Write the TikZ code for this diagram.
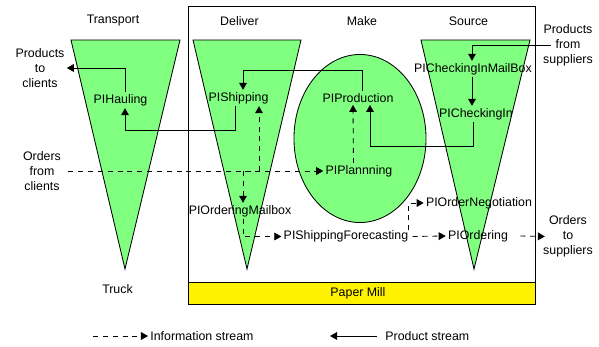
\documentclass[tikz,border=0pt]{standalone}
\usepackage{fontspec}
\setmainfont{Liberation Sans}
\usetikzlibrary{arrows.meta,calc}
\definecolor{funnelgreen}{RGB}{128,255,128}

\begin{document}
\begin{tikzpicture}[
    x=0.025cm, y=-0.025cm,
    font=\fontsize{8.8}{10.6}\selectfont,
    lbl/.style={inner sep=1.5pt, align=center},
    funnel/.style={draw, fill=funnelgreen, line width=0.6pt},
    prod/.style={-{Triangle[length=5pt,width=5.5pt]}, line width=0.6pt},
    info/.style={prod, dash pattern=on 3.6pt off 3.4pt}
  ]
    \useasboundingbox (0,0) rectangle (599,347);
    % funnels and the make ellipse
    \draw[funnel] (71,40) -- (180,40) -- (125,269) -- cycle;
    \draw[funnel] (193,40) -- (301,40) -- (247,269) -- cycle;
    \draw[funnel] (421,40) -- (530,40) -- (474,269) -- cycle;
    \draw[funnel] (360,138.5) ellipse [x radius=1.65cm, y radius=2.1cm];
    % paper mill frame
    \draw[line width=0.6pt] (188,6) rectangle (535,304);
    \draw[line width=0.6pt, fill=yellow] (188,282) rectangle (535,304);

    \node[lbl] (transport) at (113,21) {Transport};
    \node[lbl] (deliver) at (239.5,21) {Deliver};
    \node[lbl] (make) at (362,21) {Make};
    \node[lbl] (source) at (468.5,21) {Source};
    \node[lbl] (truck) at (117.5,289) {Truck};
    \node[lbl] (mill) at (358,293) {Paper Mill};

    \node[lbl] (hauling) at (120.5,100) {PIHauling};
    \node[lbl] (shipping) at (238.5,98) {PIShipping};
    \node[lbl] (production) at (358,98) {PIProduction};
    \node[lbl] (chkmail) at (473,69) {PICheckingInMailBox};
    \node[lbl] (chkin) at (476,114) {PICheckingIn};
    \node[lbl] (planning) at (359,171) {PIPlannning};
    \node[lbl] (ordmail) at (240,211) {PIOrderingMailbox};
    \node[lbl] (forecast) at (346,236.5) {PIShippingForecasting};
    \node[lbl] (negot) at (479,203) {PIOrderNegotiation};
    \node[lbl] (ordering) at (478,236) {PIOrdering};

    \node[lbl] (toclients) at (40,68) {Products\\to\\clients};
    \node[lbl] (fromclients) at (42,171) {Orders\\from\\clients};
    \node[lbl] (fromsupp) at (568,45) {Products\\from\\suppliers};
    \node[lbl] (tosupp) at (568,236.5) {Orders\\to\\suppliers};

    % product stream
    \draw[prod] ($(shipping.south)+(-3,0)$) -- ++(0,24) -| ($(hauling.south)+(4.5,0)$);
    \draw[prod] ($(hauling.north)+(4.5,0)$) |- (toclients.east);
    \draw[prod] ($(production.north)+(4,0)$) -- ++(0,-21) -| ($(shipping.north)+(4.5,0)$);
    \draw[prod] ($(chkin.south)+(-3,0)$) -- ++(0,24) -| ($(production.south)+(12,0)$);
    \draw[prod] ($(fromsupp.west)+(10,0)$) -| ($(chkmail.north)+(-1,0)$);
    \draw[prod] ($(chkmail.south)+(-1,0)$) -- ($(chkin.north)+(-4,0)$);

    % information stream
    \coordinate (upbranch) at ($(shipping.south)+(20.5,0)$);
    \coordinate (downbranch) at ($(ordmail.north)+(3,0)$);
    \draw[info] ($(fromclients.east)+(5,0)$) -- (planning.west);
    \draw[info] (downbranch |- planning.west) -- (downbranch);
    \draw[info] (upbranch |- planning.west) -- (upbranch);
    \draw[info] ($(planning.north)+(-5.5,0)$) -- ($(production.south)+(-5,0)$);
    \draw[info] ($(ordmail.south)+(3,0)$) |- (forecast.west);
    \draw[info] ($(forecast.north east)+(-2,2)$) |- (negot.west);
    \draw[info] ($(forecast.east)+(2,0)$) -- (ordering.west);
    \draw[info] ($(ordering.east)+(10,0)$) -- ($(tosupp.west)+(4,0)$);

    % legend
    \node[lbl, anchor=west] (infoleg) at (148,336) {Information stream};
    \node[lbl, anchor=west] (prodleg) at (383,336) {Product stream};
    \coordinate (infostart) at (93,336);
    \coordinate (prodend) at (330,336);
    \draw[info] (infostart) -- (infoleg.west);
    \draw[prod] ($(prodleg.west)+(-6,0)$) -- (prodend);
\end{tikzpicture}
\end{document}
